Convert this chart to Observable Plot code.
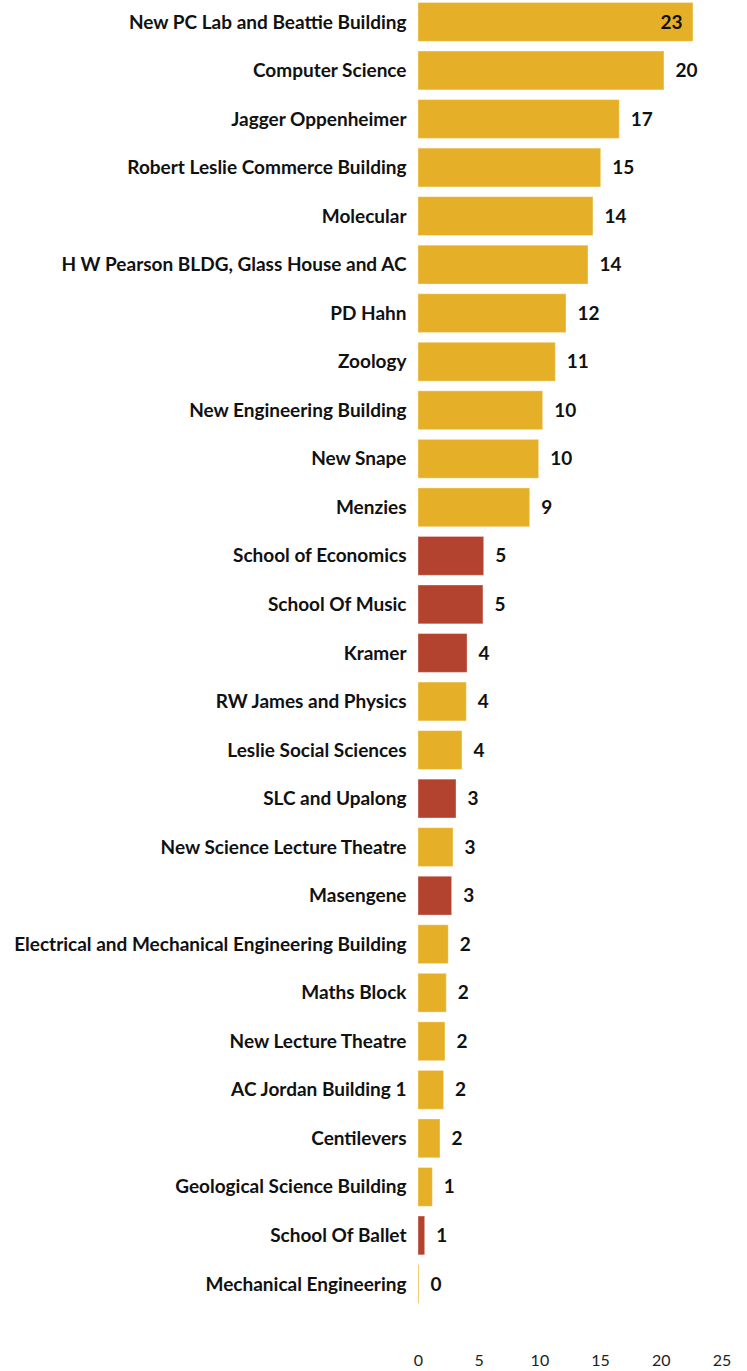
<!DOCTYPE html>
<html>
<head>
<meta charset="utf-8">
<script src="https://cdn.jsdelivr.net/npm/d3@7"></script>
<script src="https://cdn.jsdelivr.net/npm/@observablehq/plot@0.6"></script>
<style>
  html, body { margin: 0; padding: 0; background: #fff; }
  #chart svg { display: block; }
</style>
</head>
<body>
<div id="chart"></div>
<script>
const buildings = [
  "New PC Lab and Beattie Building", "Computer Science", "Jagger Oppenheimer",
  "Robert Leslie Commerce Building", "Molecular", "H W Pearson BLDG, Glass House and AC",
  "PD Hahn", "Zoology", "New Engineering Building", "New Snape", "Menzies",
  "School of Economics", "School Of Music", "Kramer", "RW James and Physics",
  "Leslie Social Sciences", "SLC and Upalong", "New Science Lecture Theatre",
  "Masengene", "Electrical and Mechanical Engineering Building", "Maths Block",
  "New Lecture Theatre", "AC Jordan Building 1", "Centilevers",
  "Geological Science Building", "School Of Ballet", "Mechanical Engineering"
];
const values = [
  22.65, 20.26, 16.58, 15.05, 14.41, 14.0,
  12.19, 11.31, 10.27, 9.94, 9.2,
  5.41, 5.35, 4.04, 3.98,
  3.62, 3.13, 2.88,
  2.77, 2.49, 2.33,
  2.22, 2.11, 1.81,
  1.18, 0.55, 0.08
];
const groups = [
  "a", "a", "a", "a", "a", "a",
  "a", "a", "a", "a", "a",
  "b", "b", "b", "a",
  "a", "b", "a",
  "b", "a", "a",
  "a", "a", "a",
  "a", "b", "a"
];
const groupDomain = ["a", "b"];
const groupColors = ["#E5B027", "#B3432F"];
const xTicks = [0, 5, 10, 15, 20, 25];

const data = buildings.map((name, i) => ({name, value: values[i], group: groups[i]}));
const inside = d => d.value > 21;

const chart = Plot.plot({
  width: 747,
  height: 1371,
  marginLeft: 418,
  marginRight: 25.5,
  marginTop: 2.5,
  marginBottom: 67.6,
  style: {fontFamily: "Lato, sans-serif", background: "#fff"},
  x: {domain: [0, 25], ticks: xTicks},
  y: {domain: buildings, paddingInner: 0.2, paddingOuter: 0, round: false},
  color: {domain: groupDomain, range: groupColors},
  marks: [
    Plot.barX(data, {
      x: "value", y: "name", fill: "group",
      stroke: "#fff", strokeOpacity: 0.35, strokeWidth: 1
    }),
    Plot.text(data.filter(d => !inside(d)), {
      x: "value", y: "name", text: d => d3.format(".0f")(d.value),
      textAnchor: "start", dx: 11, fontSize: 19, fontWeight: "bold", fill: "#111"
    }),
    Plot.text(data.filter(inside), {
      x: "value", y: "name", text: d => d3.format(".0f")(d.value),
      textAnchor: "end", dx: -11, fontSize: 19, fontWeight: "bold", fill: "#111"
    }),
    Plot.axisY({
      tickSize: 0, tickPadding: 12, fontSize: 19, fontWeight: "bold",
      fill: "#111", label: null
    }),
    Plot.axisX({
      ticks: xTicks, tickSize: 0, tickPadding: 3, dy: 48, fontSize: 16,
      fill: "#222", label: null
    })
  ]
});
document.getElementById("chart").appendChild(chart);
</script>
</body>
</html>
